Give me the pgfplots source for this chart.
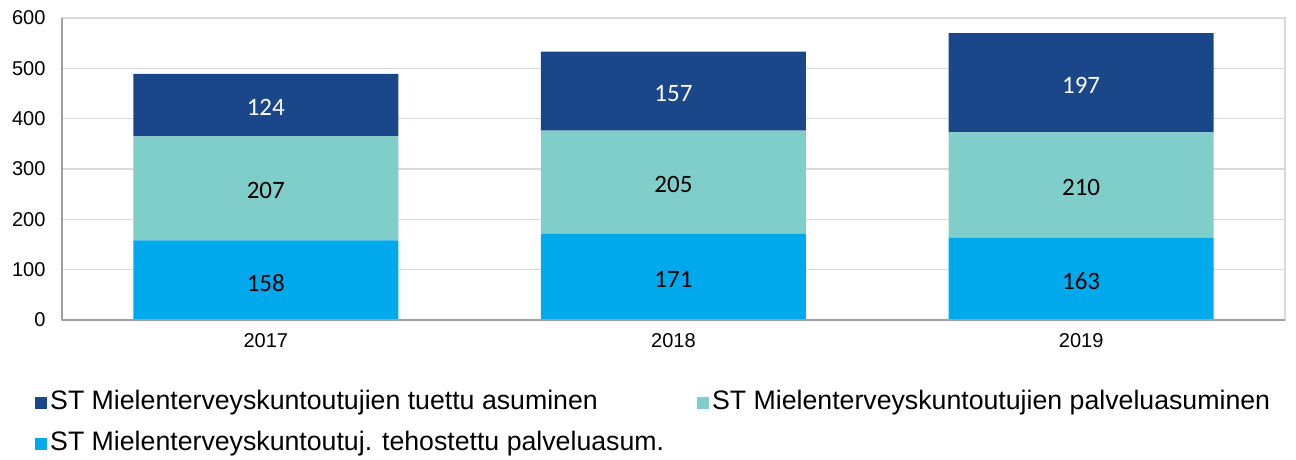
\documentclass[border=0pt]{standalone}
\usepackage{fontspec}
\setmainfont{Liberation Sans}
\newfontfamily\carlito{Carlito}
\usepackage{pgfplots}
\pgfplotsset{compat=1.18}
\definecolor{darkblue}{RGB}{26,71,137}
\definecolor{tealc}{RGB}{127,206,201}
\definecolor{lightblue}{RGB}{0,169,236}
\definecolor{gridgray}{RGB}{217,217,217}
\definecolor{axisgray}{RGB}{160,160,160}

\pgfplotsset{
  base/.style={
    width=1223pt, height=302pt, scale only axis,
    xmin=-0.5, xmax=2.5, ymin=0, ymax=600,
  },
}

\begin{document}
\begin{tikzpicture}
\useasboundingbox (-62pt,-140pt) rectangle (1234pt,320pt);
\begin{axis}[
  base,
  ybar stacked, bar width=265pt,
  axis line style={gridgray, line width=1.2pt},
  xtick={0,1,2}, xticklabels={2017,2018,2019},
  ytick={0,100,...,600},
  major tick length=0pt,
  ymajorgrids, grid style={gridgray, line width=1.2pt},
  tick label style={font=\fontsize{20}{20}\selectfont},
  /pgf/number format/assume math mode=true,
  xticklabel style={yshift=-10pt},
  yticklabel style={xshift=-13pt},
  reverse legend,
  legend columns=2,
  legend cell align=left,
  legend style={
    draw=none, fill=none, inner sep=0pt,
    at={(rel axis cs:0,0)}, anchor=north west,
    xshift=-27pt, yshift=-71pt,
    font=\fontsize{26.7}{26.7}\selectfont,
    nodes={inner ysep=0pt, inner xsep=3pt, text height=18pt, text depth=6pt},
    row sep=17pt,
    /tikz/column 2/.style={column sep=30pt},
  },
  legend image code/.code={\fill[#1] (0pt,-6pt) rectangle (12pt,6pt);},
  after end axis/.code={
    \draw[axisgray, line width=1.2pt] (rel axis cs:0,0) -- (rel axis cs:0,1);
    \draw[axisgray, line width=1.2pt] (rel axis cs:0,0) -- (rel axis cs:1,0);
  },
]
\addplot[fill=lightblue, draw=none] coordinates {(0,158) (1,171) (2,163)};
\addlegendentry{ST Mielenterveyskuntoutuj. tehostettu palveluasum.}
\addplot[fill=tealc, draw=none] coordinates {(0,207) (1,205) (2,210)};
\addlegendentry{ST Mielenterveyskuntoutujien palveluasuminen}
\addplot[fill=darkblue, draw=none] coordinates {(0,124) (1,157) (2,197)};
\addlegendentry{ST Mielenterveyskuntoutujien tuettu asuminen}
\end{axis}

% value labels, centred in each segment
\begin{axis}[
  base, hide axis,
  nodes near coords,
  point meta=explicit symbolic,
  nodes near coords align={center},
  every node near coord/.append style={anchor=center, yshift=-2.5pt, font=\carlito\fontsize{25}{25}\selectfont},
]
\addplot[only marks, mark=none, nodes near coords] coordinates {
  (0,79)[158] (1,85.5)[171] (2,81.5)[163]
  (0,261.5)[207] (1,273.5)[205] (2,268)[210]
};
\addplot[only marks, mark=none, nodes near coords,
  every node near coord/.append style={text=white}] coordinates {
  (0,427)[124] (1,454.5)[157] (2,471.5)[197]
};
\end{axis}
\end{tikzpicture}
\end{document}
